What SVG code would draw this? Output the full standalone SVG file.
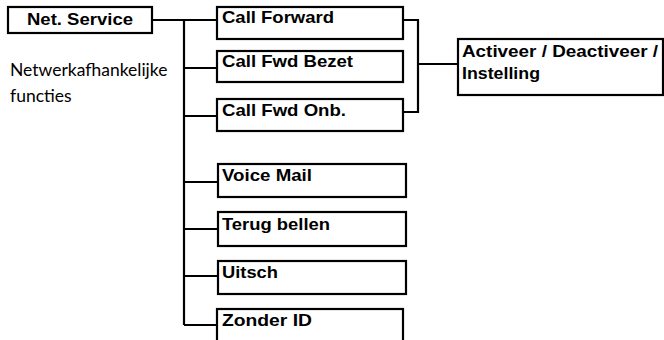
<svg xmlns="http://www.w3.org/2000/svg" width="664" height="340" viewBox="0 0 664 340">
<style>
.box{fill:#fff;stroke:#000;stroke-width:2.2}
.ln{fill:none;stroke:#000;stroke-width:2.2}
.t{font-family:"Liberation Sans",Arial,sans-serif;font-weight:bold;font-size:17px;fill:#000}
.r{font-family:Lato,"Liberation Sans",sans-serif;font-size:17.5px;fill:#000}
</style>
<rect width="664" height="340" fill="#fff"/>
<g id="connectors">
<path class="ln" d="M152 20H184M184 20V325"/>
<path class="ln" d="M184 20H217M184 68H217M184 116H217M184 182H218M184 229H218M184 276H218M184 325H217"/>
<path class="ln" d="M403 20H418V112H403M418 64H458"/>
</g>
<g id="net-service"><rect class="box" x="8" y="7" width="144" height="26"/><text class="t" x="27" y="25" textLength="106" lengthAdjust="spacingAndGlyphs">Net. Service</text></g>
<g id="desc"><text class="r" x="10" y="76">Netwerkafhankelijke</text><text class="r" x="10" y="102">functies</text></g>
<g id="call-forward"><rect class="box" x="217" y="7" width="186" height="32"/><text class="t" x="222" y="23" textLength="112" lengthAdjust="spacingAndGlyphs">Call Forward</text></g>
<g id="call-fwd-bezet"><rect class="box" x="217" y="51" width="186" height="31"/><text class="t" x="222" y="67" textLength="131" lengthAdjust="spacingAndGlyphs">Call Fwd Bezet</text></g>
<g id="call-fwd-onb"><rect class="box" x="217" y="99" width="186" height="32"/><text class="t" x="222" y="116" textLength="124" lengthAdjust="spacingAndGlyphs">Call Fwd Onb.</text></g>
<g id="activeer"><rect class="box" x="458" y="39" width="205" height="56"/><text class="t" x="462" y="57" textLength="196" lengthAdjust="spacingAndGlyphs">Activeer / Deactiveer /</text><text class="t" x="462" y="79" textLength="78" lengthAdjust="spacingAndGlyphs">Instelling</text></g>
<g id="voice-mail"><rect class="box" x="218" y="164" width="188" height="33"/><text class="t" x="222" y="181" textLength="90" lengthAdjust="spacingAndGlyphs">Voice Mail</text></g>
<g id="terug-bellen"><rect class="box" x="218" y="212" width="188" height="34"/><text class="t" x="222" y="230" textLength="108" lengthAdjust="spacingAndGlyphs">Terug bellen</text></g>
<g id="uitsch"><rect class="box" x="218" y="261" width="188" height="33"/><text class="t" x="222" y="278" textLength="56" lengthAdjust="spacingAndGlyphs">Uitsch</text></g>
<g id="zonder-id"><rect class="box" x="217" y="309" width="186" height="40"/><text class="t" x="222" y="326" textLength="90" lengthAdjust="spacingAndGlyphs">Zonder ID</text></g>
</svg>
